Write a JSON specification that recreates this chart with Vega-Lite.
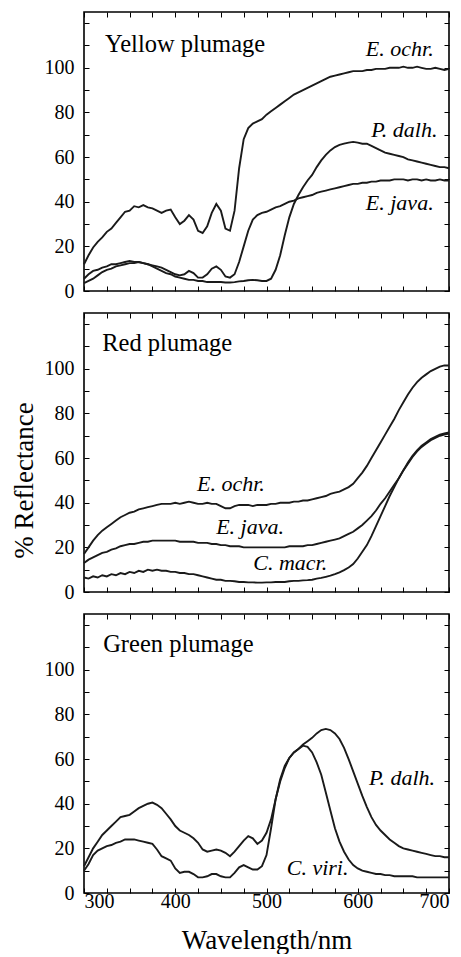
{
  "$schema": "https://vega.github.io/schema/vega-lite/v6.json",
  "padding": {"left": 9, "top": 10, "right": 0, "bottom": 0},
  "spacing": 9,
  "datasets": {
    "yellow": [
      {"w":300,"ochr":12,"java":5.5,"dalh":3.5},{"w":305,"ochr":16,"java":7.5,"dalh":4.5},{"w":310,"ochr":19.5,"java":9,"dalh":5.5},{"w":315,"ochr":22,"java":9.5,"dalh":7},{"w":320,"ochr":24,"java":10.5,"dalh":8.5},{"w":325,"ochr":26.5,"java":11,"dalh":9.5},{"w":330,"ochr":28,"java":12,"dalh":10},{"w":335,"ochr":30.5,"java":12,"dalh":11},{"w":340,"ochr":33,"java":12.5,"dalh":11.5},{"w":345,"ochr":35.5,"java":13,"dalh":12},{"w":350,"ochr":36,"java":13.5,"dalh":12.5},{"w":355,"ochr":38,"java":13,"dalh":12.5},{"w":360,"ochr":37.5,"java":13,"dalh":13},{"w":365,"ochr":38.5,"java":12.5,"dalh":12.5},{"w":370,"ochr":37.5,"java":12,"dalh":12},{"w":375,"ochr":37,"java":11.5,"dalh":11},{"w":380,"ochr":36,"java":11,"dalh":10},{"w":385,"ochr":35,"java":10.5,"dalh":9},{"w":390,"ochr":36,"java":9.5,"dalh":8},{"w":395,"ochr":36.5,"java":8.5,"dalh":7.5},{"w":400,"ochr":33,"java":7.5,"dalh":6.5},{"w":405,"ochr":30,"java":7,"dalh":6},{"w":410,"ochr":31.5,"java":7.5,"dalh":5.5},{"w":415,"ochr":34,"java":9,"dalh":5},{"w":420,"ochr":32,"java":8,"dalh":5},{"w":425,"ochr":27,"java":6,"dalh":4.5},{"w":430,"ochr":26,"java":6,"dalh":4.5},{"w":435,"ochr":29,"java":7.5,"dalh":4},{"w":440,"ochr":35,"java":10,"dalh":4},{"w":445,"ochr":39,"java":11,"dalh":4},{"w":450,"ochr":36,"java":9.5,"dalh":4},{"w":455,"ochr":28,"java":6.5,"dalh":3.8},{"w":460,"ochr":27,"java":6,"dalh":3.8},{"w":465,"ochr":36,"java":7.5,"dalh":4},{"w":470,"ochr":55,"java":13,"dalh":4.3},{"w":475,"ochr":68,"java":20,"dalh":4.5},{"w":480,"ochr":73,"java":27,"dalh":4.8},{"w":485,"ochr":75,"java":32,"dalh":5},{"w":490,"ochr":76,"java":34,"dalh":4.8},{"w":495,"ochr":77,"java":35,"dalh":4.5},{"w":500,"ochr":79,"java":35.5,"dalh":4.5},{"w":505,"ochr":80.5,"java":36.5,"dalh":5.5},{"w":510,"ochr":82,"java":37.5,"dalh":9.5},{"w":515,"ochr":83.5,"java":38,"dalh":16},{"w":520,"ochr":85,"java":39,"dalh":25},{"w":525,"ochr":86.5,"java":40,"dalh":33},{"w":530,"ochr":88,"java":40.5,"dalh":39},{"w":535,"ochr":89,"java":41.5,"dalh":43},{"w":540,"ochr":90,"java":42,"dalh":46.5},{"w":545,"ochr":91,"java":42.5,"dalh":49.5},{"w":550,"ochr":92,"java":43,"dalh":52},{"w":555,"ochr":93,"java":44,"dalh":55.5},{"w":560,"ochr":94,"java":44.5,"dalh":58.5},{"w":565,"ochr":95,"java":45,"dalh":61},{"w":570,"ochr":96,"java":45.5,"dalh":63},{"w":575,"ochr":96.5,"java":46,"dalh":64.5},{"w":580,"ochr":97,"java":46.5,"dalh":65.5},{"w":585,"ochr":97.5,"java":47,"dalh":66},{"w":590,"ochr":98,"java":47.5,"dalh":66.5},{"w":595,"ochr":98.5,"java":48,"dalh":66.8},{"w":600,"ochr":98.5,"java":48,"dalh":66.5},{"w":605,"ochr":98.5,"java":48.5,"dalh":66},{"w":610,"ochr":99,"java":48.5,"dalh":66},{"w":615,"ochr":99,"java":49,"dalh":65},{"w":620,"ochr":99.5,"java":49,"dalh":64},{"w":625,"ochr":99.5,"java":49.5,"dalh":63},{"w":630,"ochr":99.5,"java":49.5,"dalh":62},{"w":635,"ochr":100,"java":49.5,"dalh":61.5},{"w":640,"ochr":100,"java":50,"dalh":61},{"w":645,"ochr":100,"java":50,"dalh":60.5},{"w":650,"ochr":100.5,"java":50,"dalh":60},{"w":655,"ochr":100,"java":49.5,"dalh":59},{"w":660,"ochr":100,"java":50,"dalh":58.5},{"w":665,"ochr":100.5,"java":50,"dalh":58},{"w":670,"ochr":100,"java":49.5,"dalh":57.5},{"w":675,"ochr":99.5,"java":50,"dalh":57},{"w":680,"ochr":99.5,"java":49.5,"dalh":56.5},{"w":685,"ochr":100,"java":49.5,"dalh":56},{"w":690,"ochr":99.5,"java":50,"dalh":55.5},{"w":695,"ochr":99,"java":49.5,"dalh":55.5},{"w":700,"ochr":99.5,"java":49.5,"dalh":55}
    ],
    "red": [
      {"w":300,"ochr":17,"java":13,"macr":6.5},{"w":305,"ochr":20,"java":14.5,"macr":6},{"w":310,"ochr":23,"java":15.5,"macr":7},{"w":315,"ochr":25.5,"java":16.5,"macr":6.5},{"w":320,"ochr":27.5,"java":17.5,"macr":7.5},{"w":325,"ochr":29,"java":18,"macr":7},{"w":330,"ochr":30.5,"java":19,"macr":8},{"w":335,"ochr":32,"java":19.5,"macr":7.5},{"w":340,"ochr":33.5,"java":20.5,"macr":8.5},{"w":345,"ochr":34.5,"java":21,"macr":8},{"w":350,"ochr":35.5,"java":21.5,"macr":9},{"w":355,"ochr":36,"java":21.5,"macr":8.5},{"w":360,"ochr":37,"java":22,"macr":9.5},{"w":365,"ochr":37.5,"java":22.5,"macr":9},{"w":370,"ochr":38,"java":22.5,"macr":10},{"w":375,"ochr":38.5,"java":23,"macr":9.5},{"w":380,"ochr":39,"java":23,"macr":10},{"w":385,"ochr":39.5,"java":23,"macr":9.5},{"w":390,"ochr":39.5,"java":23,"macr":9.5},{"w":395,"ochr":39.5,"java":23,"macr":9},{"w":400,"ochr":40,"java":23,"macr":9},{"w":405,"ochr":39.5,"java":22.5,"macr":8.5},{"w":410,"ochr":40,"java":22.5,"macr":8.5},{"w":415,"ochr":40.5,"java":22.5,"macr":8},{"w":420,"ochr":40,"java":22.5,"macr":8},{"w":425,"ochr":39.5,"java":22,"macr":7.5},{"w":430,"ochr":39.5,"java":22,"macr":7},{"w":435,"ochr":40,"java":22,"macr":6.5},{"w":440,"ochr":39.5,"java":21.5,"macr":6},{"w":445,"ochr":39.5,"java":21.5,"macr":5.5},{"w":450,"ochr":38.5,"java":21,"macr":5.5},{"w":455,"ochr":37.5,"java":21,"macr":5},{"w":460,"ochr":37.5,"java":20.5,"macr":5},{"w":465,"ochr":38.5,"java":20.5,"macr":4.8},{"w":470,"ochr":39,"java":20.5,"macr":4.5},{"w":475,"ochr":39,"java":20,"macr":4.5},{"w":480,"ochr":39,"java":20,"macr":4.3},{"w":485,"ochr":38.5,"java":20,"macr":4.3},{"w":490,"ochr":39,"java":20,"macr":4.2},{"w":495,"ochr":39,"java":20,"macr":4.2},{"w":500,"ochr":39,"java":20,"macr":4.3},{"w":505,"ochr":39.5,"java":20,"macr":4.3},{"w":510,"ochr":39.5,"java":20,"macr":4.5},{"w":515,"ochr":40,"java":20,"macr":4.5},{"w":520,"ochr":40,"java":20,"macr":4.5},{"w":525,"ochr":40,"java":20.5,"macr":4.8},{"w":530,"ochr":40.5,"java":20.5,"macr":5},{"w":535,"ochr":40.5,"java":20.5,"macr":5},{"w":540,"ochr":41,"java":20.5,"macr":5.2},{"w":545,"ochr":41,"java":21,"macr":5.3},{"w":550,"ochr":41.5,"java":21,"macr":5.5},{"w":555,"ochr":42,"java":21.5,"macr":6},{"w":560,"ochr":42.5,"java":22,"macr":6.3},{"w":565,"ochr":43,"java":22.5,"macr":6.8},{"w":570,"ochr":44,"java":23,"macr":7.3},{"w":575,"ochr":44.5,"java":23.5,"macr":8},{"w":580,"ochr":45,"java":24,"macr":8.8},{"w":585,"ochr":46,"java":25,"macr":9.8},{"w":590,"ochr":47,"java":26,"macr":11},{"w":595,"ochr":48.5,"java":27,"macr":12.5},{"w":600,"ochr":51,"java":28.5,"macr":15},{"w":605,"ochr":53.5,"java":30,"macr":18},{"w":610,"ochr":56.5,"java":32,"macr":21},{"w":615,"ochr":60,"java":34,"macr":25},{"w":620,"ochr":63.5,"java":36.5,"macr":29.5},{"w":625,"ochr":67,"java":39.5,"macr":34},{"w":630,"ochr":70.5,"java":42,"macr":38.5},{"w":635,"ochr":74,"java":45,"macr":43},{"w":640,"ochr":77.5,"java":48,"macr":47},{"w":645,"ochr":81.5,"java":51,"macr":51},{"w":650,"ochr":85,"java":54.5,"macr":54.5},{"w":655,"ochr":88.5,"java":57.5,"macr":58},{"w":660,"ochr":91.5,"java":60.5,"macr":61},{"w":665,"ochr":94,"java":63,"macr":63.5},{"w":670,"ochr":96,"java":65,"macr":65.5},{"w":675,"ochr":97.5,"java":66.5,"macr":67},{"w":680,"ochr":99,"java":68,"macr":68.5},{"w":685,"ochr":100,"java":69,"macr":69.5},{"w":690,"ochr":101,"java":70,"macr":70.5},{"w":695,"ochr":101.5,"java":70.5,"macr":71},{"w":700,"ochr":101.5,"java":71,"macr":71.5}
    ],
    "green": [
      {"w":300,"dalh":12,"viri":10},{"w":305,"dalh":16,"viri":13},{"w":310,"dalh":20,"viri":17},{"w":315,"dalh":23,"viri":19},{"w":320,"dalh":26,"viri":20},{"w":325,"dalh":28,"viri":21},{"w":330,"dalh":30,"viri":21.5},{"w":335,"dalh":32,"viri":22.5},{"w":340,"dalh":34,"viri":23},{"w":345,"dalh":34.5,"viri":24},{"w":350,"dalh":35,"viri":24},{"w":355,"dalh":36.5,"viri":24},{"w":360,"dalh":38,"viri":23.5},{"w":365,"dalh":39,"viri":23},{"w":370,"dalh":40,"viri":22.5},{"w":375,"dalh":40.5,"viri":22},{"w":380,"dalh":39.5,"viri":19.5},{"w":385,"dalh":38,"viri":16.5},{"w":390,"dalh":35.5,"viri":15.5},{"w":395,"dalh":33,"viri":14.5},{"w":400,"dalh":30,"viri":11},{"w":405,"dalh":28,"viri":9},{"w":410,"dalh":27,"viri":9.5},{"w":415,"dalh":26,"viri":9.5},{"w":420,"dalh":24.5,"viri":8.5},{"w":425,"dalh":22.5,"viri":7},{"w":430,"dalh":19.5,"viri":7},{"w":435,"dalh":18.5,"viri":7.5},{"w":440,"dalh":19,"viri":8.5},{"w":445,"dalh":19.5,"viri":8.5},{"w":450,"dalh":19,"viri":7.5},{"w":455,"dalh":18,"viri":7},{"w":460,"dalh":16.5,"viri":7},{"w":465,"dalh":18.5,"viri":9},{"w":470,"dalh":21,"viri":11.5},{"w":475,"dalh":23.5,"viri":12.5},{"w":480,"dalh":25.5,"viri":11.5},{"w":485,"dalh":24.5,"viri":10.5},{"w":490,"dalh":22,"viri":10.5},{"w":495,"dalh":23.5,"viri":12},{"w":500,"dalh":27,"viri":17},{"w":505,"dalh":33,"viri":29},{"w":510,"dalh":42,"viri":42},{"w":515,"dalh":51,"viri":50},{"w":520,"dalh":57,"viri":56},{"w":525,"dalh":60.5,"viri":60.5},{"w":530,"dalh":63,"viri":63},{"w":535,"dalh":64.5,"viri":64.5},{"w":540,"dalh":66.5,"viri":66},{"w":545,"dalh":68,"viri":65.5},{"w":550,"dalh":69.5,"viri":63},{"w":555,"dalh":71.5,"viri":58.5},{"w":560,"dalh":73,"viri":53},{"w":565,"dalh":73.5,"viri":45},{"w":570,"dalh":73,"viri":37},{"w":575,"dalh":71.5,"viri":29},{"w":580,"dalh":69,"viri":23},{"w":585,"dalh":65,"viri":18.5},{"w":590,"dalh":60,"viri":15},{"w":595,"dalh":54.5,"viri":12.5},{"w":600,"dalh":49,"viri":11},{"w":605,"dalh":43.5,"viri":10},{"w":610,"dalh":38.5,"viri":9.5},{"w":615,"dalh":34,"viri":9},{"w":620,"dalh":30.5,"viri":8.5},{"w":625,"dalh":28,"viri":8.5},{"w":630,"dalh":26,"viri":8},{"w":635,"dalh":24,"viri":8},{"w":640,"dalh":22.5,"viri":7.5},{"w":645,"dalh":21,"viri":7.5},{"w":650,"dalh":20,"viri":7.5},{"w":655,"dalh":19.5,"viri":7.5},{"w":660,"dalh":19,"viri":7.5},{"w":665,"dalh":18.5,"viri":7},{"w":670,"dalh":18,"viri":7},{"w":675,"dalh":17.5,"viri":7},{"w":680,"dalh":17,"viri":7},{"w":685,"dalh":16.5,"viri":7},{"w":690,"dalh":16.5,"viri":7},{"w":695,"dalh":16,"viri":7},{"w":700,"dalh":16,"viri":7}
    ],
    "panelnames": [
      {"p":"Y","t":"Yellow plumage","w":323,"r":107},
      {"p":"R","t":"Red plumage","w":320,"r":108},
      {"p":"G","t":"Green plumage","w":321,"r":108}
    ],
    "species": [
      {"p":"Y","t":"E. ochr.","w":646,"r":105.5},
      {"p":"Y","t":"P. dalh.","w":651,"r":69},
      {"p":"Y","t":"E. java.","w":646,"r":36.3},
      {"p":"R","t":"E. ochr.","w":461,"r":45.3},
      {"p":"R","t":"E. java.","w":482,"r":26.2},
      {"p":"R","t":"C. macr.","w":526,"r":9.9},
      {"p":"G","t":"P. dalh.","w":648.5,"r":48.4},
      {"p":"G","t":"C. viri.","w":556,"r":8.1}
    ]
  },
  "vconcat": [
    {
      "width": 365, "height": 279,
      "layer": [
        {
          "data": {"name": "yellow"},
          "transform": [{"fold": ["ochr", "java", "dalh"], "as": ["s", "r"]}],
          "mark": {"type": "line", "color": "#1a1a1a", "strokeWidth": 1.9},
          "encoding": {
            "x": {"field": "w", "type": "quantitative", "scale": {"domain": [300, 700], "nice": false},
                  "axis": {"values": [300,325,350,375,400,425,450,475,500,525,550,575,600,625,650,675,700], "labels": false, "title": null}},
            "y": {"field": "r", "type": "quantitative", "scale": {"domain": [0, 125], "nice": false},
                  "axis": {"values": [0,10,20,30,40,50,60,70,80,90,100,110,120], "labelExpr": "datum.value % 20 == 0 && datum.value <= 100 ? datum.label : ''", "labelPadding": 15, "title": "% Reflectance", "titlePadding": 6, "titleOpacity": 0}},
            "detail": {"field": "s"}
          }
        },
        {
          "data": {"name": "yellow"},
          "mark": {"type": "point", "opacity": 0},
          "encoding": {
            "x": {"field": "w", "type": "quantitative", "scale": {"domain": [300, 700], "nice": false},
                  "axis": {"orient": "top", "values": [300,325,350,375,400,425,450,475,500,525,550,575,600,625,650,675,700], "labels": false, "title": null}},
            "y": {"field": "ochr", "type": "quantitative", "scale": {"domain": [0, 125], "nice": false},
                  "axis": {"orient": "right", "values": [0,10,20,30,40,50,60,70,80,90,100,110,120], "labels": false, "title": null}}
          }
        },
        {
          "data": {"name": "panelnames"},
          "transform": [{"filter": "datum.p == 'Y'"}],
          "mark": {"type": "text", "align": "left", "baseline": "alphabetic", "fontSize": 24.5, "font": "'Liberation Serif', 'Times New Roman', serif", "color": "black"},
          "encoding": {
            "x": {"field": "w", "type": "quantitative", "axis": null},
            "y": {"field": "r", "type": "quantitative", "axis": null},
            "text": {"field": "t"}
          }
        },
        {
          "data": {"name": "species"},
          "transform": [{"filter": "datum.p == 'Y'"}],
          "mark": {"type": "text", "align": "center", "baseline": "alphabetic", "fontSize": 22, "fontStyle": "italic", "font": "'Liberation Serif', 'Times New Roman', serif", "color": "black"},
          "encoding": {
            "x": {"field": "w", "type": "quantitative", "axis": null},
            "y": {"field": "r", "type": "quantitative", "axis": null},
            "text": {"field": "t"}
          }
        }
      ],
      "resolve": {"axis": {"x": "independent", "y": "independent"}}
    },
    {
      "width": 365, "height": 279,
      "layer": [
        {
          "data": {"name": "red"},
          "transform": [{"fold": ["ochr", "java", "macr"], "as": ["s", "r"]}],
          "mark": {"type": "line", "color": "#1a1a1a", "strokeWidth": 1.9},
          "encoding": {
            "x": {"field": "w", "type": "quantitative", "scale": {"domain": [300, 700], "nice": false},
                  "axis": {"values": [300,325,350,375,400,425,450,475,500,525,550,575,600,625,650,675,700], "labels": false, "title": null}},
            "y": {"field": "r", "type": "quantitative", "scale": {"domain": [0, 125], "nice": false},
                  "axis": {"values": [0,10,20,30,40,50,60,70,80,90,100,110,120], "labelExpr": "datum.value % 20 == 0 && datum.value <= 100 ? datum.label : ''", "labelPadding": 15, "title": "% Reflectance", "titlePadding": 6, "titleY": 167}},
            "detail": {"field": "s"}
          }
        },
        {
          "data": {"name": "red"},
          "mark": {"type": "point", "opacity": 0},
          "encoding": {
            "x": {"field": "w", "type": "quantitative", "scale": {"domain": [300, 700], "nice": false},
                  "axis": {"orient": "top", "values": [300,325,350,375,400,425,450,475,500,525,550,575,600,625,650,675,700], "labels": false, "title": null}},
            "y": {"field": "ochr", "type": "quantitative", "scale": {"domain": [0, 125], "nice": false},
                  "axis": {"orient": "right", "values": [0,10,20,30,40,50,60,70,80,90,100,110,120], "labels": false, "title": null}}
          }
        },
        {
          "data": {"name": "panelnames"},
          "transform": [{"filter": "datum.p == 'R'"}],
          "mark": {"type": "text", "align": "left", "baseline": "alphabetic", "fontSize": 24.5, "font": "'Liberation Serif', 'Times New Roman', serif", "color": "black"},
          "encoding": {
            "x": {"field": "w", "type": "quantitative", "axis": null},
            "y": {"field": "r", "type": "quantitative", "axis": null},
            "text": {"field": "t"}
          }
        },
        {
          "data": {"name": "species"},
          "transform": [{"filter": "datum.p == 'R'"}],
          "mark": {"type": "text", "align": "center", "baseline": "alphabetic", "fontSize": 22, "fontStyle": "italic", "font": "'Liberation Serif', 'Times New Roman', serif", "color": "black"},
          "encoding": {
            "x": {"field": "w", "type": "quantitative", "axis": null},
            "y": {"field": "r", "type": "quantitative", "axis": null},
            "text": {"field": "t"}
          }
        }
      ],
      "resolve": {"axis": {"x": "independent", "y": "independent"}}
    },
    {
      "width": 365, "height": 279,
      "layer": [
        {
          "data": {"name": "green"},
          "transform": [{"fold": ["dalh", "viri"], "as": ["s", "r"]}],
          "mark": {"type": "line", "color": "#1a1a1a", "strokeWidth": 1.9},
          "encoding": {
            "x": {"field": "w", "type": "quantitative", "scale": {"domain": [300, 700], "nice": false},
                  "axis": {"values": [300,325,350,375,400,425,450,475,500,525,550,575,600,625,650,675,700], "labelExpr": "datum.value % 100 == 0 ? datum.label : ''", "labelPadding": 3, "title": "Wavelength/nm", "titlePadding": 16}},
            "y": {"field": "r", "type": "quantitative", "scale": {"domain": [0, 125], "nice": false},
                  "axis": {"values": [0,10,20,30,40,50,60,70,80,90,100,110,120], "labelExpr": "datum.value % 20 == 0 && datum.value <= 100 ? datum.label : ''", "labelPadding": 15, "title": "% Reflectance", "titlePadding": 6, "titleOpacity": 0}},
            "detail": {"field": "s"}
          }
        },
        {
          "data": {"name": "green"},
          "mark": {"type": "point", "opacity": 0},
          "encoding": {
            "x": {"field": "w", "type": "quantitative", "scale": {"domain": [300, 700], "nice": false},
                  "axis": {"orient": "top", "values": [300,325,350,375,400,425,450,475,500,525,550,575,600,625,650,675,700], "labels": false, "title": null}},
            "y": {"field": "dalh", "type": "quantitative", "scale": {"domain": [0, 125], "nice": false},
                  "axis": {"orient": "right", "values": [0,10,20,30,40,50,60,70,80,90,100,110,120], "labels": false, "title": null}}
          }
        },
        {
          "data": {"name": "panelnames"},
          "transform": [{"filter": "datum.p == 'G'"}],
          "mark": {"type": "text", "align": "left", "baseline": "alphabetic", "fontSize": 24.5, "font": "'Liberation Serif', 'Times New Roman', serif", "color": "black"},
          "encoding": {
            "x": {"field": "w", "type": "quantitative", "axis": null},
            "y": {"field": "r", "type": "quantitative", "axis": null},
            "text": {"field": "t"}
          }
        },
        {
          "data": {"name": "species"},
          "transform": [{"filter": "datum.p == 'G'"}],
          "mark": {"type": "text", "align": "center", "baseline": "alphabetic", "fontSize": 22, "fontStyle": "italic", "font": "'Liberation Serif', 'Times New Roman', serif", "color": "black"},
          "encoding": {
            "x": {"field": "w", "type": "quantitative", "axis": null},
            "y": {"field": "r", "type": "quantitative", "axis": null},
            "text": {"field": "t"}
          }
        }
      ],
      "resolve": {"axis": {"x": "independent", "y": "independent"}}
    }
  ],
  "config": {
    "font": "'Liberation Serif', 'Times New Roman', serif",
    "view": {"stroke": "black", "strokeWidth": 1.6},
    "axis": {
      "labelFont": "'Liberation Serif', 'Times New Roman', serif", "titleFont": "'Liberation Serif', 'Times New Roman', serif",
      "labelFontSize": 20, "titleFontSize": 27, "titleFontWeight": "normal",
      "labelColor": "black", "titleColor": "black",
      "tickColor": "black", "tickSize": -5, "tickWidth": 1,
      "domain": false, "grid": false, "labelOverlap": false
    }
  }
}
